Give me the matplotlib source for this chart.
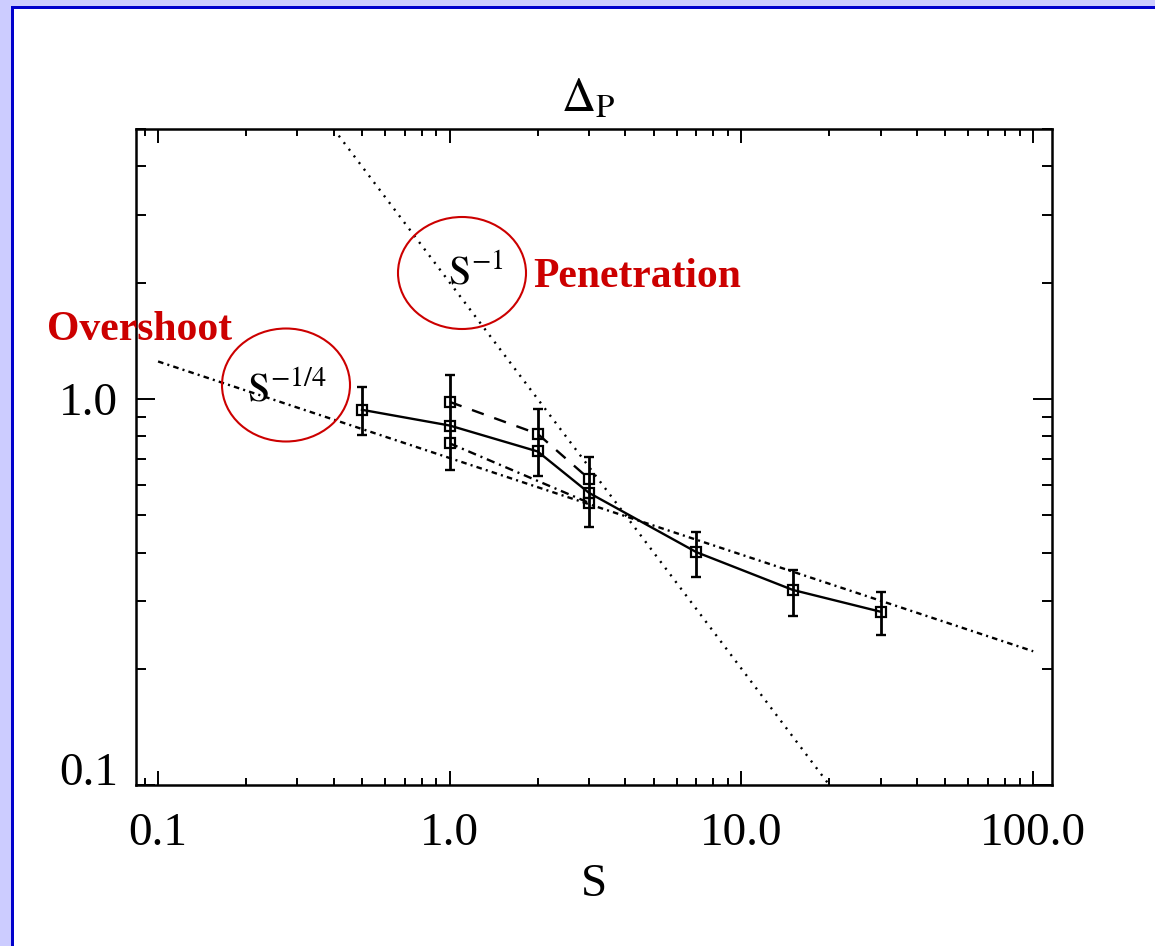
import numpy as np
import matplotlib
matplotlib.use("Agg")
import matplotlib.pyplot as plt
from matplotlib.patches import Ellipse, Rectangle
from matplotlib.ticker import FixedLocator, FixedFormatter, LogLocator, NullFormatter

plt.rcParams['font.family'] = ['Liberation Serif', 'DejaVu Serif']
plt.rcParams['mathtext.fontset'] = 'stix'
plt.rcParams['lines.scale_dashes'] = False

# main series (solid line with error bars)
s_main = [0.5, 1.0, 2.0, 3.0, 7.0, 15.0, 30.0]
d_main = [0.937, 0.853, 0.731, 0.571, 0.401, 0.320, 0.281]
d_main_hi = [1.074, 1.154, 0.942, 0.708, 0.452, 0.361, 0.316]
d_main_lo = [0.807, 0.655, 0.632, 0.466, 0.346, 0.274, 0.245]

# upper (dashed) and lower (dash-dot) series
s_upper = [1.0, 2.0, 3.0]
d_upper = [0.982, 0.812, 0.621]
s_lower = [1.0, 3.0]
d_lower = [0.767, 0.538]

# power law guide lines, end points
s_pen = [0.4, 20.0]
d_pen = [5.0, 0.1]
s_over = [0.1, 100.0]
d_over = [1.25, 0.222]

xticks = [0.1, 1.0, 10.0, 100.0]
xticklabels = ['0.1', '1.0', '10.0', '100.0']
yticks = [0.1, 1.0]
yticklabels = ['0.1', '1.0']

W, H = 1155, 946
fig = plt.figure(figsize=(W / 100, H / 100), dpi=100)
fig.patch.set_facecolor('#CCCCFF')

# white page with blue edge on top and left
fig.add_artist(Rectangle((14 / W, 0), (W - 14) / W, (H - 9) / H, transform=fig.transFigure,
                         fc='white', ec='none', zorder=0))
fig.add_artist(Rectangle((11 / W, 0), 3 / W, (H - 6) / H, transform=fig.transFigure,
                         fc='#0000CC', ec='none', zorder=0))
fig.add_artist(Rectangle((11 / W, (H - 9) / H), (W - 11) / W, 3 / H, transform=fig.transFigure,
                         fc='#0000CC', ec='none', zorder=0))

ax = fig.add_axes([136 / W, (H - 785) / H, (1052 - 136) / W, (785 - 129) / H])
ax.set_xscale('log')
ax.set_yscale('log')
ax.set_xlim(0.084, 116)
ax.set_ylim(0.1, 5.0)

# guide lines
ax.plot(s_pen, d_pen, color='k', lw=1.7, dashes=(1.5, 4.5))
ax.plot(s_over, d_over, color='k', lw=1.7, dashes=(4, 3, 1.5, 3))

# data
ax.plot(s_upper, d_upper, color='k', lw=1.7, dashes=(9, 8), marker='s', ms=7,
        mfc='none', mec='k', mew=1.6)
ax.plot(s_lower, d_lower, color='k', lw=1.7, dashes=(6, 3.5, 1.5, 3.5), marker='s', ms=7,
        mfc='none', mec='k', mew=1.6)
d_main_arr = np.array(d_main)
yerr = [d_main_arr - np.array(d_main_lo), np.array(d_main_hi) - d_main_arr]
ax.errorbar(s_main, d_main, yerr=yerr, fmt='none', ecolor='k', elinewidth=2.0,
            capsize=3.5, capthick=1.7)
ax.plot(s_main, d_main, color='k', lw=1.7, marker='s', ms=7, mfc='none', mec='k', mew=1.6)

# axes look
for sp in ax.spines.values():
    sp.set_linewidth(1.8)
ax.xaxis.set_major_locator(FixedLocator(xticks))
ax.xaxis.set_major_formatter(FixedFormatter(xticklabels))
ax.xaxis.set_minor_locator(LogLocator(base=10, subs=np.arange(2, 10)))
ax.xaxis.set_minor_formatter(NullFormatter())
ax.yaxis.set_major_locator(FixedLocator(yticks))
ax.yaxis.set_major_formatter(FixedFormatter(yticklabels))
ax.yaxis.set_minor_locator(LogLocator(base=10, subs=np.arange(2, 10)))
ax.yaxis.set_minor_formatter(NullFormatter())
ax.tick_params(which='both', direction='in', top=True, right=True, width=1.4)
ax.tick_params(axis='x', which='major', length=10, pad=20, labelsize=34)
ax.tick_params(axis='x', which='minor', length=5)
ax.tick_params(axis='y', which='major', length=14, pad=13, labelsize=34)
ax.tick_params(axis='y', which='minor', length=7)

fig.canvas.draw()
for tk in ax.yaxis.get_major_ticks():
    if tk.label1.get_text() == '0.1':
        tk.label1.set_va('baseline')

ax.set_xlabel('S', fontsize=34, labelpad=6)

# title
fig.text(588 / W, 1 - 112 / H, r'$\Delta_{\mathrm{P}}$', fontsize=34, ha='center', va='baseline')

# power law labels
fig.text(448 / W, 1 - 283 / H, r'$\mathrm{S}^{-1}$', fontsize=29, va='baseline')
fig.text(247 / W, 1 - 400 / H, r'$\mathrm{S}^{-1/4}$', fontsize=29, va='baseline')

# red annotations
red = '#CC0000'
fig.add_artist(Ellipse((462 / W, 1 - 273 / H), 128 / W, 112 / H, transform=fig.transFigure,
                       fill=False, ec=red, lw=1.5))
fig.add_artist(Ellipse((286 / W, 1 - 385 / H), 128 / W, 113 / H, transform=fig.transFigure,
                       fill=False, ec=red, lw=1.5))
fig.text(533 / W, 1 - 287 / H, 'Penetration', color=red, fontsize=30, fontweight='bold',
         va='baseline')
fig.text(47 / W, 1 - 340 / H, 'Overshoot', color=red, fontsize=30, fontweight='bold',
         va='baseline')

fig.savefig('out.png', dpi=100, facecolor=fig.get_facecolor())
